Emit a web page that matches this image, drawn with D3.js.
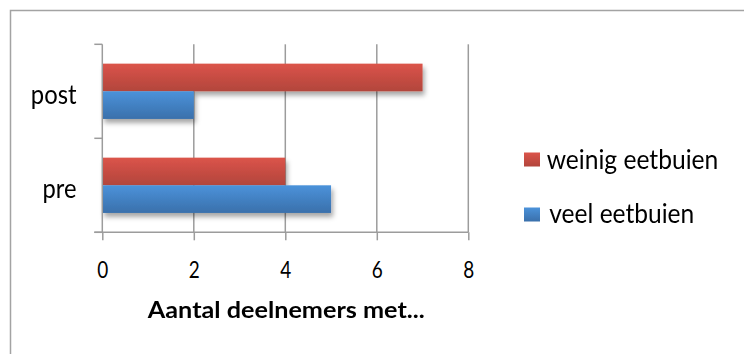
<!DOCTYPE html>
<html>
<head>
<meta charset="utf-8">
<script src="https://cdn.jsdelivr.net/npm/d3@7"></script>
<style>
  html, body { margin: 0; padding: 0; background: #fff; }
  svg { display: block; }
  text { font-family: Lato, "Open Sans", sans-serif; fill: #000; }
</style>
</head>
<body>
<script>
// Deelnemers met weinig / veel eetbuien, voor en na
const categories = ["post", "pre"];
const seriesNames = ["weinig eetbuien", "veel eetbuien"];
const weinigEetbuien = [7, 4];
const veelEetbuien = [2, 5];
const xTicks = [0, 2, 4, 6, 8];
const xTitle = "Aantal deelnemers met...";

const W = 744, H = 354;
const svg = d3.select("body").append("svg").attr("width", W).attr("height", H);

const defs = svg.append("defs");
function gradient(id, top, bottom) {
  const g = defs.append("linearGradient").attr("id", id)
    .attr("x1", 0).attr("y1", 0).attr("x2", 0).attr("y2", 1);
  g.append("stop").attr("offset", "0%").attr("stop-color", top);
  g.append("stop").attr("offset", "100%").attr("stop-color", bottom);
}
gradient("gRed", "#db544a", "#b2453c");
gradient("gBlue", "#4b92da", "#3a70ab");
const colors = { "weinig eetbuien": "url(#gRed)", "veel eetbuien": "url(#gBlue)" };

const shadow = defs.append("filter").attr("id", "shadow")
  .attr("x", "-10%").attr("y", "-30%").attr("width", "130%").attr("height", "180%");
shadow.append("feDropShadow").attr("dx", 2).attr("dy", 4)
  .attr("stdDeviation", 2.5).attr("flood-color", "#000").attr("flood-opacity", 0.35);

// Stretch a text to a given width
function fit(sel, w) {
  sel.attr("textLength", w).attr("lengthAdjust", "spacingAndGlyphs");
  return sel;
}

// Chart frame
svg.append("rect").attr("x", 10.5).attr("y", 10.5)
  .attr("width", 800).attr("height", 400)
  .attr("fill", "none").attr("stroke", "#a3a3a3").attr("stroke-width", 1.5);

const x = d3.scaleLinear().domain([0, 8]).range([102.3, 468.3]);
const y = d3.scaleBand().domain(categories).range([44.3, 232.3]);
const ySub = d3.scaleBand().domain(seriesNames).range([0, y.bandwidth()]).paddingOuter(0.7);

const gridColor = "#9c9c9c";

// Vertical gridlines
svg.append("g").selectAll("line").data(xTicks.filter(d => d !== 0)).join("line")
  .attr("x1", d => x(d)).attr("x2", d => x(d))
  .attr("y1", y.range()[0]).attr("y2", y.range()[1])
  .attr("stroke", gridColor).attr("stroke-width", 1.5);

// Bars
const rows = categories.map((c, i) => ({
  cat: c,
  values: [
    { name: seriesNames[0], v: weinigEetbuien[i] },
    { name: seriesNames[1], v: veelEetbuien[i] }
  ]
}));
svg.append("g").attr("filter", "url(#shadow)")
  .selectAll("g").data(rows).join("g")
  .attr("transform", d => `translate(0,${y(d.cat)})`)
  .selectAll("rect").data(d => d.values).join("rect")
  .attr("x", x(0))
  .attr("y", d => ySub(d.name))
  .attr("width", d => x(d.v) - x(0))
  .attr("height", ySub.bandwidth())
  .attr("fill", d => colors[d.name]);

// X axis
const xAxis = svg.append("g").attr("transform", `translate(0,${y.range()[1]})`)
  .call(d3.axisBottom(x).tickValues(xTicks).tickSize(8).tickSizeOuter(0).tickFormat(d3.format("d")));
xAxis.attr("font-size", null).attr("font-family", null);
xAxis.select(".domain").attr("stroke", gridColor).attr("stroke-width", 1.5)
  .attr("d", `M${x(0) - 8},0H${x(8)}`);
xAxis.selectAll(".tick line").attr("stroke", gridColor).attr("stroke-width", 1.5);
xAxis.selectAll(".tick text").attr("y", 0).attr("dy", 0)
  .attr("transform", "translate(0,45.5)")
  .style("font-size", "23px").attr("fill", "#000")
  .each(function () { fit(d3.select(this), 11); });

// Y axis: line plus ticks at band boundaries
const yAxis = svg.append("g");
yAxis.append("line").attr("x1", x(0)).attr("x2", x(0))
  .attr("y1", y.range()[0]).attr("y2", y.range()[1])
  .attr("stroke", gridColor).attr("stroke-width", 1.5);
const boundaries = categories.map(c => y(c)).concat([y.range()[1]]);
yAxis.selectAll("line.tk").data(boundaries).join("line").attr("class", "tk")
  .attr("x1", x(0) - 8).attr("x2", x(0))
  .attr("y1", d => d).attr("y2", d => d)
  .attr("stroke", gridColor).attr("stroke-width", 1.5);

// Category labels
const catWidths = { post: 45.7, pre: 34 };
svg.append("g").selectAll("text").data(categories).join("text")
  .attr("x", 76.5).attr("y", d => y(d) + y.bandwidth() / 2 + 12.7)
  .attr("text-anchor", "end")
  .style("font-size", "27.5px")
  .each(function (d) { fit(d3.select(this), catWidths[d]); })
  .text(d => d);

// Axis title
fit(svg.append("text").attr("x", 286.3).attr("y", 318.3)
  .attr("text-anchor", "middle").style("font-size", "23px").style("font-weight", "bold")
  .text(xTitle), 277);

// Legend
const legend = svg.append("g");
const legendRows = [
  { name: seriesNames[0], sy: 152.5, ty: 169.3, tx: 546.7, w: 171.6 },
  { name: seriesNames[1], sy: 207.5, ty: 223.3, tx: 549.3, w: 145 }
];
legend.selectAll("rect").data(legendRows).join("rect")
  .attr("x", 524).attr("y", d => d.sy).attr("width", 16).attr("height", 14)
  .attr("fill", d => colors[d.name]);
legend.selectAll("text").data(legendRows).join("text")
  .attr("x", d => d.tx).attr("y", d => d.ty)
  .style("font-size", "26.5px")
  .each(function (d) { fit(d3.select(this), d.w); })
  .text(d => d.name);
</script>
</body>
</html>
